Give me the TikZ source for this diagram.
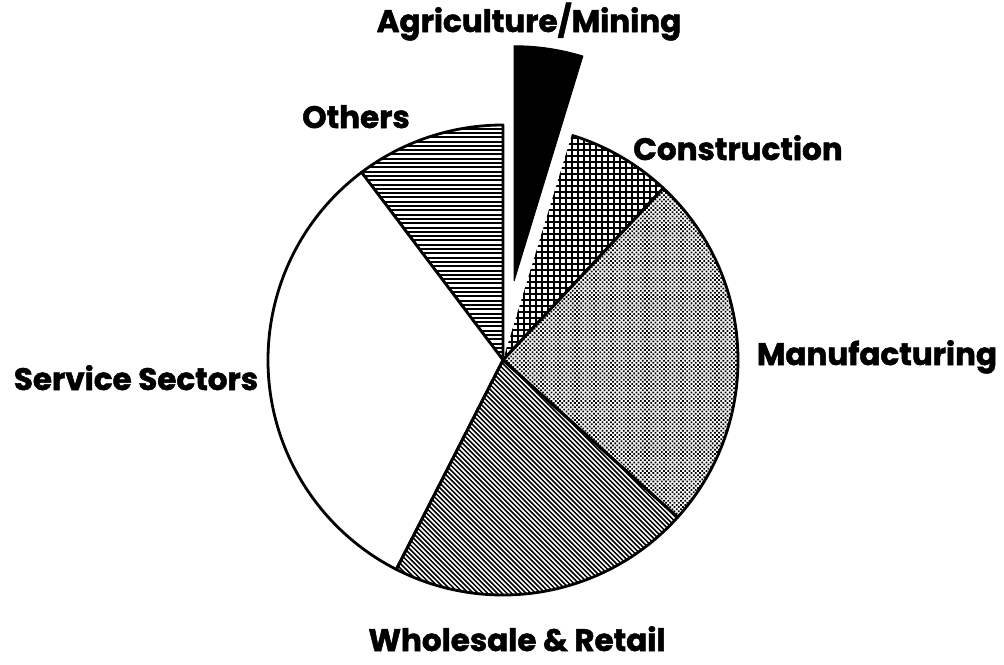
\documentclass[tikz,border=0pt]{standalone}
\usepackage{fontspec}
\newfontfamily\lblfont{Poppins}[BoldFeatures={FakeBold=1.6}]
\usetikzlibrary{patterns.meta,calc}
\begin{document}
\begin{tikzpicture}[x=1pt,y=1pt,
  outline/.style={draw=black,line width=2.8pt,line join=round},
  hatchline/.style={line width=2pt,black},
  lbl/.style={font=\lblfont\bfseries\fontsize{31}{31}\selectfont,anchor=base,inner sep=0pt}]
\useasboundingbox (0,0) rectangle (1004,-664);
\def\R{235}
\coordinate (C) at (503,-360);
\coordinate (A) at ($(C)+(82:80)$);
% Others: horizontal lines
\begin{scope}
  \clip (C) -- ++(90:\R) arc[start angle=90,end angle=127,radius=\R] -- cycle;
  \foreach \k in {0,...,60} \draw[hatchline] (340,-120-\k*4.3) -- (520,-120-\k*4.3);
\end{scope}
\path[outline] (C) -- ++(90:\R) arc[start angle=90,end angle=127,radius=\R] -- cycle;
% Service Sectors
\path[outline,fill=white]
  (C) -- ++(127:\R) arc[start angle=127,end angle=243,radius=\R] -- cycle;
% Wholesale & Retail: north-west lines
\begin{scope}
  \clip (C) -- ++(243:\R) arc[start angle=243,end angle=318,radius=\R] -- cycle;
  \foreach \k in {0,...,90} \draw[line width=1.5pt] (60+\k*4.8,-300) -- ++(340,-340);
\end{scope}
\path[outline] (C) -- ++(243:\R) arc[start angle=243,end angle=318,radius=\R] -- cycle;
% Manufacturing: fine dots
\path[outline,pattern={Dots[angle=45,distance=3pt,radius=1.25pt]}]
  (C) -- ++(318:\R) arc[start angle=318,end angle=407,radius=\R] -- cycle;
% Construction: crosshatch
\begin{scope}
  \clip (C) -- ++(47:\R) arc[start angle=47,end angle=73,radius=\R] -- cycle;
  \foreach \k in {0,...,40} {
    \draw[line width=1.8pt] (500+\k*6,-370) -- (500+\k*6,-120);
    \draw[line width=1.8pt] (500,-120-\k*6) -- (680,-120-\k*6);
  }
\end{scope}
\draw[line width=2.8pt,line join=round] (C) -- ++(47:\R) arc[start angle=47,end angle=73,radius=\R];
% Agriculture/Mining (exploded)
\path[draw=black,fill=black,line width=1pt,line join=round]
  (A) -- ++(73:\R) arc[start angle=73,end angle=90,radius=\R] -- cycle;
% Labels
\node[lbl] (agr) at (529,-32) {Agriculture/Mining};
\node[lbl] (oth) at (356,-128) {Others};
\node[lbl] (con) at (738,-160) {Construction};
\node[lbl] (man) at (877,-365) {Manufacturing};
\node[lbl] (ser) at (136,-390) {Service Sectors};
\node[lbl] (who) at (517,-651) {Wholesale \& Retail};
\end{tikzpicture}
\end{document}
